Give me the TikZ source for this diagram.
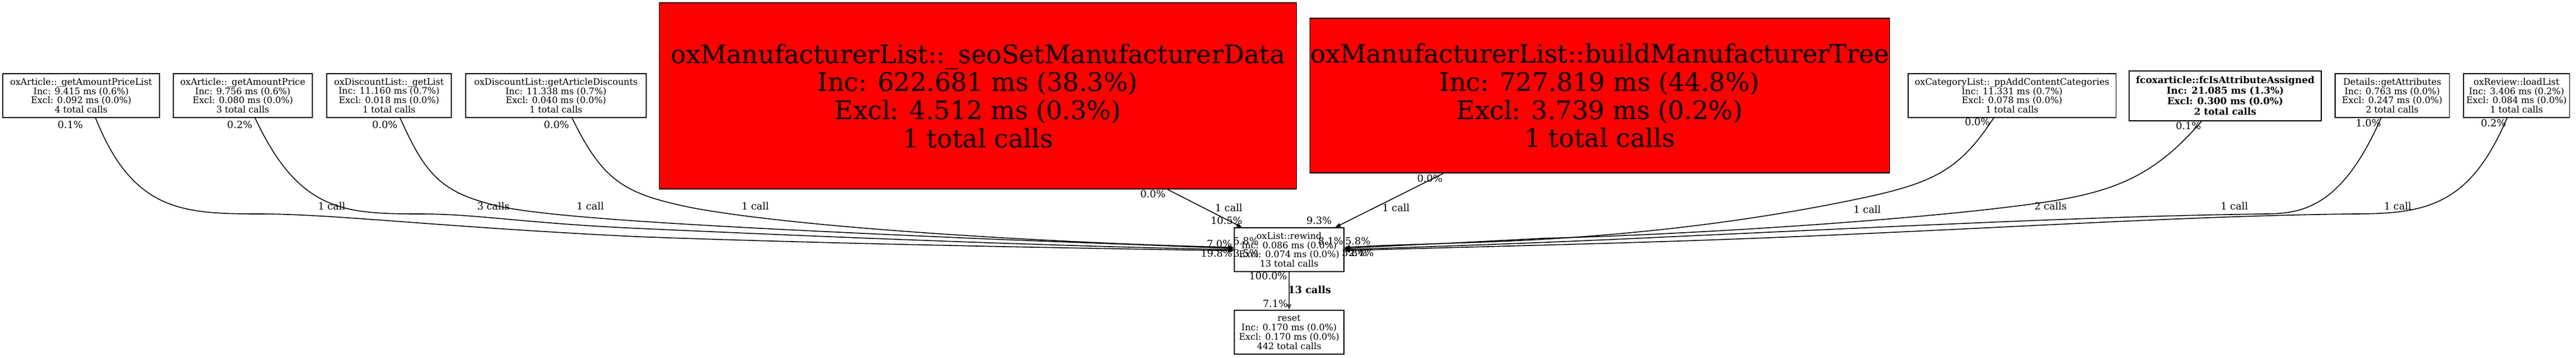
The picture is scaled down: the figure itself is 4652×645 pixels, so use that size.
\documentclass[tikz,border=0pt]{standalone}
\usepackage{fontspec}
\setmainfont{DejaVu Serif}
\usetikzlibrary{arrows.meta}
\begin{document}
\begin{tikzpicture}[x=0.01cm,y=-0.01cm,
    box/.style={draw,line width=0.35pt,rectangle,inner sep=0pt,align=center,
      minimum height=0.79cm,font=\fontsize{4.6}{4.8}\selectfont},
    hot/.style={box,fill=red,font=\fontsize{13.1}{14.4}\selectfont},
    lbl/.style={inner sep=0pt,font=\fontsize{5.1}{6}\selectfont},
    call/.style={line width=0.45pt,-{Triangle[length=1mm,width=0.7mm]}}]
  \useasboundingbox (0,0) rectangle (4652,645);
  \node[box,minimum width=2.83cm] (al) at (146.5,172.5)
    {oxArticle::\_getAmountPriceList\\Inc: 9.415 ms (0.6\%)\\Excl: 0.092 ms (0.0\%)\\4 total calls};
  \node[box,minimum width=2.51cm] (ap) at (438.5,172.5)
    {oxArticle::\_getAmountPrice\\Inc: 9.756 ms (0.6\%)\\Excl: 0.080 ms (0.0\%)\\3 total calls};
  \node[box,minimum width=2.25cm] (dl) at (702.5,172.5)
    {oxDiscountList::\_getList\\Inc: 11.160 ms (0.7\%)\\Excl: 0.018 ms (0.0\%)\\1 total calls};
  \node[box,minimum width=3.26cm] (dd) at (1004,172.5)
    {oxDiscountList::getArticleDiscounts\\Inc: 11.338 ms (0.7\%)\\Excl: 0.040 ms (0.0\%)\\1 total calls};
  \node[hot,minimum width=11.5cm,minimum height=3.36cm] (seo) at (1766,173)
    {oxManufacturerList::\_seoSetManufacturerData\\Inc: 622.681 ms (38.3\%)\\Excl: 4.512 ms (0.3\%)\\1 total calls};
  \node[hot,minimum width=10.46cm,minimum height=2.79cm] (tree) at (2889,172.5)
    {oxManufacturerList::buildManufacturerTree\\Inc: 727.819 ms (44.8\%)\\Excl: 3.739 ms (0.2\%)\\1 total calls};
  \node[box,minimum width=3.75cm] (cat) at (3633.5,172.5)
    {oxCategoryList::\_ppAddContentCategories\\Inc: 11.331 ms (0.7\%)\\Excl: 0.078 ms (0.0\%)\\1 total calls};
  \node[box,line width=0.6pt,minimum width=3.47cm,minimum height=0.9cm,
    font=\fontsize{4.85}{5.4}\selectfont\bfseries] (fc) at (4018.5,173)
    {fcoxarticle::fcIsAttributeAssigned\\Inc: 21.085 ms (1.3\%)\\Excl: 0.300 ms (0.0\%)\\2 total calls};
  \node[box,minimum width=2.06cm] (da) at (4320,172.5)
    {Details::getAttributes\\Inc: 0.763 ms (0.0\%)\\Excl: 0.247 ms (0.0\%)\\2 total calls};
  \node[box,minimum width=1.91cm] (rl) at (4544.5,172.5)
    {oxReview::loadList\\Inc: 3.406 ms (0.2\%)\\Excl: 0.084 ms (0.0\%)\\1 total calls};
  \node[box,minimum width=1.98cm] (rw) at (2328,450.5)
    {oxList::rewind\\Inc: 0.086 ms (0.0\%)\\Excl: 0.074 ms (0.0\%)\\13 total calls};
  \node[box,minimum width=1.98cm] (rs) at (2328,599.5)
    {reset\\Inc: 0.170 ms (0.0\%)\\Excl: 0.170 ms (0.0\%)\\442 total calls};

  \draw[call] ([xshift=0.26cm]al.south) .. controls (240,382) and (330,386) .. (470,386)
    .. controls (600,386) and (800,410) .. (1150,427)
    .. controls (1500,440) and (1900,447) .. ([yshift=-0.02cm]rw.west);
  \draw[call] ([xshift=0.22cm]ap.south) .. controls (540,382) and (620,386) .. (760,386)
    .. controls (860,386) and (950,403) .. (1150,412)
    .. controls (1500,428) and (1900,444) .. ([yshift=0cm]rw.west);
  \draw[call] ([xshift=0.2cm]dl.south) .. controls (770,320) and (800,348) .. (900,372)
    .. controls (1000,394) and (1300,410) .. (1756,430)
    .. controls (1950,438) and (2100,443) .. ([yshift=0.02cm]rw.west);
  \draw[call] ([xshift=0.29cm]dd.south) .. controls (1090,330) and (1130,350) .. (1250,375)
    .. controls (1450,412) and (1900,438) .. ([yshift=0.04cm]rw.west);
  \draw[call] ([xshift=3.42cm]seo.south) -- ([xshift=-0.85cm]rw.north);
  \draw[call] ([xshift=-2.82cm]tree.south) -- ([xshift=0.83cm]rw.north);
  \draw[call] ([xshift=-0.33cm]cat.south) .. controls (3530,320) and (3480,335) .. (3300,370)
    .. controls (3100,408) and (2900,428) .. (2700,436)
    .. controls (2600,440) and (2500,442) .. ([yshift=0.04cm]rw.east);
  \draw[call] ([xshift=-0.43cm]fc.south) .. controls (3880,330) and (3800,352) .. (3640,372)
    .. controls (3400,402) and (3000,425) .. (2786,430)
    .. controls (2600,440) and (2500,444) .. ([yshift=0.02cm]rw.east);
  \draw[call] ([xshift=-0.2cm]da.south) .. controls (4230,372) and (4160,386) .. (4090,386)
    .. controls (3800,390) and (3500,405) .. (3000,428)
    .. controls (2750,440) and (2550,446) .. ([yshift=0cm]rw.east);
  \draw[call] ([xshift=-0.17cm]rl.south) .. controls (4460,372) and (4380,386) .. (4250,386)
    .. controls (3900,390) and (3500,420) .. (3000,436)
    .. controls (2750,444) and (2550,448) .. ([yshift=-0.02cm]rw.east);
  \draw[call,line width=0.6pt,draw=black!75] (rw.south) -- (rs.north);

  \node[lbl] at (127,225) {0.1\%};
  \node[lbl] at (433,225) {0.2\%};
  \node[lbl] at (695,225) {0.0\%};
  \node[lbl] at (1005,225) {0.0\%};
  \node[lbl] at (599,372) {1 call};
  \node[lbl] at (891,372) {3 calls};
  \node[lbl] at (1066,372) {1 call};
  \node[lbl] at (1364,372) {1 call};
  \node[lbl] at (2082,350) {0.0\%};
  \node[lbl] at (2219,375) {1 call};
  \node[lbl] at (2215,398) {10.5\%};
  \node[lbl] at (2582,322) {0.0\%};
  \node[lbl] at (2521,375) {1 call};
  \node[lbl] at (2382,398) {9.3\%};
  \node[lbl] at (3571,220) {0.0\%};
  \node[lbl] at (3952,227) {0.1\%};
  \node[lbl] at (4277,222) {1.0\%};
  \node[lbl] at (4503,222) {0.2\%};
  \node[lbl] at (3372,378) {1 call};
  \node[lbl] at (3703,372) {2 calls};
  \node[lbl] at (4035,372) {1 call};
  \node[lbl] at (4330,372) {1 call};
  \node[lbl] at (2202,440) {7.0\%};
  \node[lbl] at (2197,457) {19.8\%};
  \node[lbl] at (2250,435) {5.8\%};
  \node[lbl] at (2250,457) {3.5\%};
  \node[lbl] at (2403,435) {8.1\%};
  \node[lbl] at (2452,435) {5.8\%};
  \node[lbl] at (2446,456) {5.8\%};
  \node[lbl] at (2458,456) {2.4\%};
  \node[lbl] at (2290,498) {100.0\%};
  \node[lbl,font=\fontsize{5.1}{6}\selectfont\bfseries] at (2365,523) {13 calls};
  \node[lbl] at (2303,548) {7.1\%};
\end{tikzpicture}
\end{document}
